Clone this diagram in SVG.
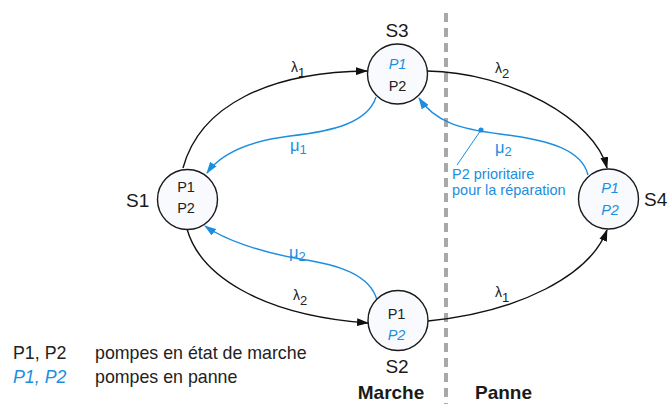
<svg xmlns="http://www.w3.org/2000/svg" width="669" height="404" viewBox="0 0 669 404">
<defs>
<marker id="ab" markerUnits="userSpaceOnUse" markerWidth="12" markerHeight="8" refX="11" refY="4" orient="auto"><path d="M0,0 L12,4 L0,8 z" fill="#111"/></marker>
<marker id="au" markerUnits="userSpaceOnUse" markerWidth="12" markerHeight="8" refX="11" refY="4" orient="auto"><path d="M0,0 L12,4 L0,8 z" fill="#1b8ee0"/></marker>
</defs>
<style>
text{font-family:"Liberation Sans",Arial,sans-serif;}
.c{fill:#f8fafd;stroke:#1a1a1a;stroke-width:1.4;}
.in{font-size:14.5px;fill:#222;text-anchor:middle;}
.inb{font-size:14.5px;fill:#1b8ee0;font-style:italic;text-anchor:middle;}
.lab{font-size:19px;fill:#1a1a1a;}
.e{fill:none;stroke:#111;stroke-width:1.4;marker-end:url(#ab);}
.eb{fill:none;stroke:#1b8ee0;stroke-width:1.4;marker-end:url(#au);}
.gl{font-size:14px;fill:#222;}
.gb{font-size:16.5px;fill:#1b8ee0;}
.sub{font-size:13px;}
.lg{font-size:17.8px;fill:#222;}
.lgb{font-size:17.8px;fill:#1b8ee0;font-style:italic;}
.big{font-size:19px;font-weight:bold;fill:#1a1a1a;}
.note{font-size:14.5px;fill:#1b8ee0;}
</style>
<line x1="446" y1="13" x2="446" y2="404" stroke="#a8a8a8" stroke-width="4" stroke-dasharray="9 6"/>
<g id="connectors">
<path class="e" d="M183,168 C200,105 270,72 367,71"/>
<path class="e" d="M427,71 C510,72 595,120 607,168"/>
<path class="e" d="M187,229 C200,275 260,315 368,323"/>
<path class="e" d="M428,321 C520,312 590,275 607,230"/>
<path class="eb" d="M376,97 C368,122 335,131 290,136 C250,141 222,152 207,173"/>
<path class="eb" d="M588,175 C582,150 550,140 500,134 C460,129 435,122 419,98"/>
<path class="eb" d="M377,300 C370,275 340,265 300,259 C260,252 225,240 205,226"/>
<circle cx="481" cy="130" r="2.6" fill="#1b8ee0"/>
<line x1="481" y1="130" x2="457" y2="165" stroke="#1b8ee0" stroke-width="1"/>
<text class="gl" x="291" y="72">λ<tspan class="sub" dy="5">1</tspan></text>
<text class="gl" x="495" y="73">λ<tspan class="sub" dy="5">2</tspan></text>
<text class="gl" x="293" y="300">λ<tspan class="sub" dy="5">2</tspan></text>
<text class="gl" x="495" y="297">λ<tspan class="sub" dy="5">1</tspan></text>
<text class="gb" x="290" y="151">μ<tspan class="sub" dy="3">1</tspan></text>
<text class="gb" x="495" y="153">μ<tspan class="sub" dy="3">2</tspan></text>
<text class="gb" x="289" y="258">μ<tspan class="sub" dy="3">2</tspan></text>
<text class="note" x="452" y="179">P2 prioritaire</text>
<text class="note" x="452" y="195">pour la réparation</text>
</g>
<g id="S1">
<circle class="c" cx="187.5" cy="199.5" r="30"/>
<text class="in" x="186" y="192">P1</text>
<text class="in" x="186" y="213">P2</text>
<text class="lab" x="126" y="207">S1</text>
</g>
<g id="S3">
<circle class="c" cx="397.5" cy="74" r="30"/>
<text class="inb" x="397.5" y="69">P1</text>
<text class="in" x="397.5" y="91">P2</text>
<text class="lab" x="397" y="37" text-anchor="middle">S3</text>
</g>
<g id="S2">
<circle class="c" cx="398" cy="320.5" r="30"/>
<text class="in" x="396.5" y="319">P1</text>
<text class="inb" x="396.5" y="340">P2</text>
<text class="lab" x="397" y="373" text-anchor="middle">S2</text>
</g>
<g id="S4">
<circle class="c" cx="608.5" cy="199" r="30"/>
<text class="inb" x="610" y="193">P1</text>
<text class="inb" x="610" y="215">P2</text>
<text class="lab" x="644" y="206">S4</text>
</g>
<g id="legend">
<text class="lg" x="13" y="359">P1, P2</text>
<text class="lg" x="95" y="359">pompes en état de marche</text>
<text class="lgb" x="13" y="383">P1, P2</text>
<text class="lg" x="95" y="383">pompes en panne</text>
<text class="big" x="391" y="399" text-anchor="middle">Marche</text>
<text class="big" x="475" y="399">Panne</text>
</g>
</svg>
